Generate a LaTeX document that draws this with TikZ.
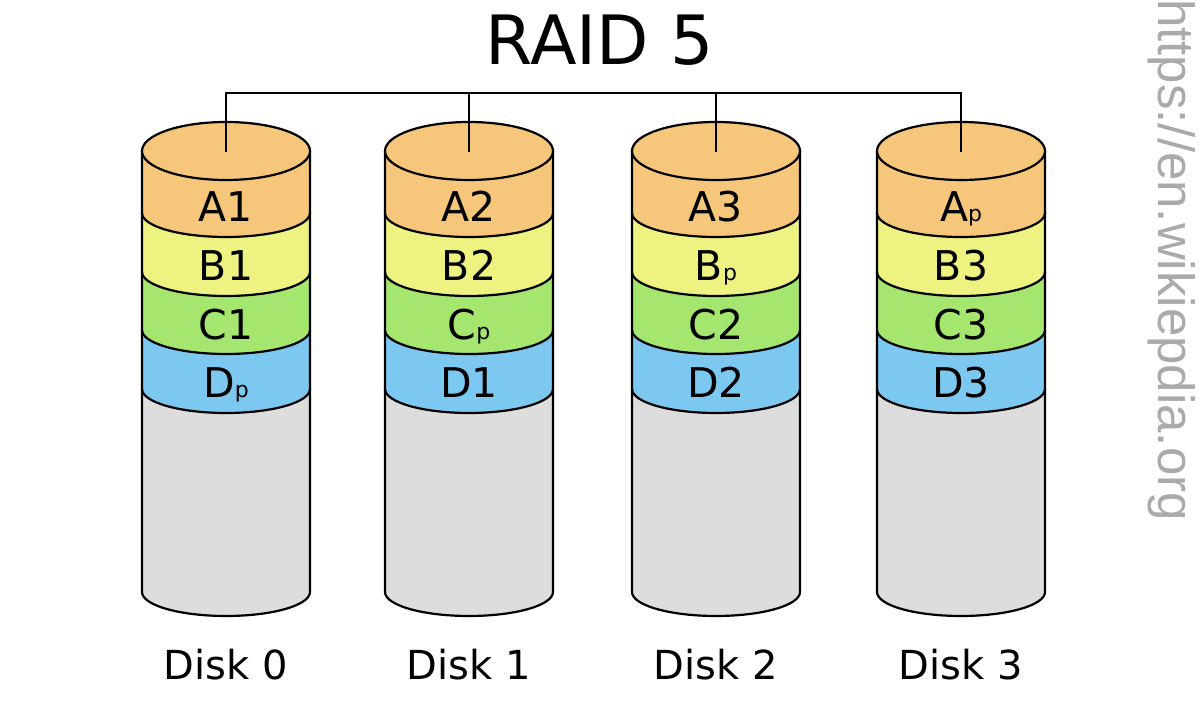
\documentclass[tikz,border=0pt]{standalone}
\usepackage{fontspec}
\setmainfont{DejaVu Sans}
\newfontfamily\wmfont{Liberation Sans}
\definecolor{cA}{RGB}{246,199,122}
\definecolor{cB}{RGB}{238,242,128}
\definecolor{cC}{RGB}{165,230,110}
\definecolor{cD}{RGB}{125,200,240}
\definecolor{cE}{RGB}{221,221,221}
\definecolor{wm}{RGB}{170,170,170}
\newcommand\psub[1]{{\fontsize{22}{22}\selectfont #1}}
\tikzset{
  outline/.style={draw=black,line width=2.2pt},
  lab/.style={anchor=base,inner sep=0pt,font=\fontsize{41}{41}\selectfont},
  disklab/.style={anchor=base,inner sep=0pt,font=\fontsize{40}{40}\selectfont},
  titlelab/.style={anchor=base,inner sep=0pt,font=\fontsize{68}{68}\selectfont},
  bus/.style={draw=black,line width=2.2pt}
}
\begin{document}
\begin{tikzpicture}[x=1pt,y=1pt]
\useasboundingbox (0,0) rectangle (1200,720);
\fill[white] (0,0) rectangle (1200,720);
\def\rx{84}
\foreach \i/\cx/\la/\lb/\lc/\ld in {0/226/A1/B1/C1/D\psub{p},1/469/A2/B2/C\psub{p}/D1,2/716/A3/B\psub{p}/C2/D2,3/961/A\psub{p}/B3/C3/D3}{
  % body and layers
  \fill[cE] (\cx-\rx,569) -- (\cx-\rx,128) arc[start angle=180,end angle=360,x radius=\rx,y radius=24] -- (\cx+\rx,569) -- cycle;
  \fill[cD] (\cx-\rx,569) -- (\cx-\rx,331) arc[start angle=180,end angle=360,x radius=\rx,y radius=24] -- (\cx+\rx,569) -- cycle;
  \fill[cC] (\cx-\rx,569) -- (\cx-\rx,390) arc[start angle=180,end angle=360,x radius=\rx,y radius=24] -- (\cx+\rx,569) -- cycle;
  \fill[cB] (\cx-\rx,569) -- (\cx-\rx,448) arc[start angle=180,end angle=360,x radius=\rx,y radius=24] -- (\cx+\rx,569) -- cycle;
  \fill[cA] (\cx-\rx,569) -- (\cx-\rx,507) arc[start angle=180,end angle=360,x radius=\rx,y radius=24] -- (\cx+\rx,569) -- cycle;
  % outlines
  \draw[outline] (\cx-\rx,507) arc[start angle=180,end angle=360,x radius=\rx,y radius=24];
  \draw[outline] (\cx-\rx,448) arc[start angle=180,end angle=360,x radius=\rx,y radius=24];
  \draw[outline] (\cx-\rx,390) arc[start angle=180,end angle=360,x radius=\rx,y radius=24];
  \draw[outline] (\cx-\rx,331) arc[start angle=180,end angle=360,x radius=\rx,y radius=24];
  \draw[outline,line join=round] (\cx-\rx,569) -- (\cx-\rx,128) arc[start angle=180,end angle=360,x radius=\rx,y radius=24] -- (\cx+\rx,569);
  \filldraw[outline,fill=cA] (\cx,569) ellipse[x radius=\rx,y radius=29];
  % labels
  \node[lab] (a\i) at (\cx,498) {\la};
  \node[lab] (b\i) at (\cx,439) {\lb};
  \node[lab] (c\i) at (\cx,380) {\lc};
  \node[lab] (d\i) at (\cx,322) {\ld};
  \node[disklab] (disk\i) at (\cx,40) {Disk \i};
  \coordinate (t\i) at (\cx,568);
  \coordinate (u\i) at (\cx,627);
}
\draw[bus] (t0) -- (u0) -- (u3) -- (t3);
\draw[bus] (u1) -- (t1);
\draw[bus] (u2) -- (t2);
\node[titlelab] (title) at (600,655) {RAID 5};
\node[rotate=-90,inner sep=0pt,text=wm,font=\wmfont\fontsize{51}{51}\selectfont] (wmark) at (1172,460) {https://en.wikiepdia.org};
\end{tikzpicture}
\end{document}
